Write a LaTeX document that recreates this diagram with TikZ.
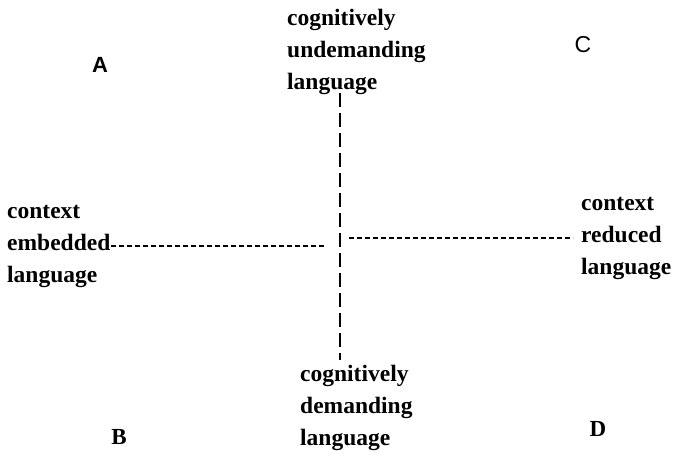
\documentclass[tikz,border=0pt]{standalone}
\usepackage{fontspec}
\setmainfont{Liberation Serif}
\setsansfont{Liberation Sans}
\usetikzlibrary{positioning}

\tikzset{
  lbl/.style={align=left, inner sep=0pt, font=\bfseries\fontsize{23.5}{32}\selectfont},
  corner/.style={inner sep=0pt, font=\bfseries\fontsize{23}{27}\selectfont},
  hdash/.style={line width=1.4pt, dash pattern=on 5pt off 3pt},
  vdash/.style={line width=1.6pt, dash pattern=on 14pt off 6pt}
}

\begin{document}
\begin{tikzpicture}[x=1pt, y=-1pt]
\useasboundingbox (0,0) rectangle (680,456);

\node[lbl, anchor=west] (U) at (287,52)  {cognitively\\undemanding\\language};
\node[lbl, anchor=west] (E) at (7,246)   {context\\embedded\\language};
\node[lbl, anchor=west] (R) at (581,238) {context\\reduced\\language};
\node[lbl, anchor=west] (M) at (300,408) {cognitively\\demanding\\language};

\node[corner, font=\sffamily\bfseries\fontsize{22}{26}\selectfont] (A) at (100,65) {A};
\node[corner, font=\sffamily\fontsize{23}{27}\selectfont] (C) at (583,45) {C};
\node[corner] (B) at (119,437) {B};
\node[corner] (D) at (598,429) {D};

% the two axes
\coordinate (O) at (340,242);
\draw[vdash] (U.south -| O) ++(0,-2) -- ([yshift=5pt]M.north -| O);
\draw[hdash] (E.east) -- ([xshift=-14pt]O |- E.east);
\draw[hdash] ([xshift=9pt]O |- R.west) -- ([xshift=-8pt]R.west);

\end{tikzpicture}
\end{document}
